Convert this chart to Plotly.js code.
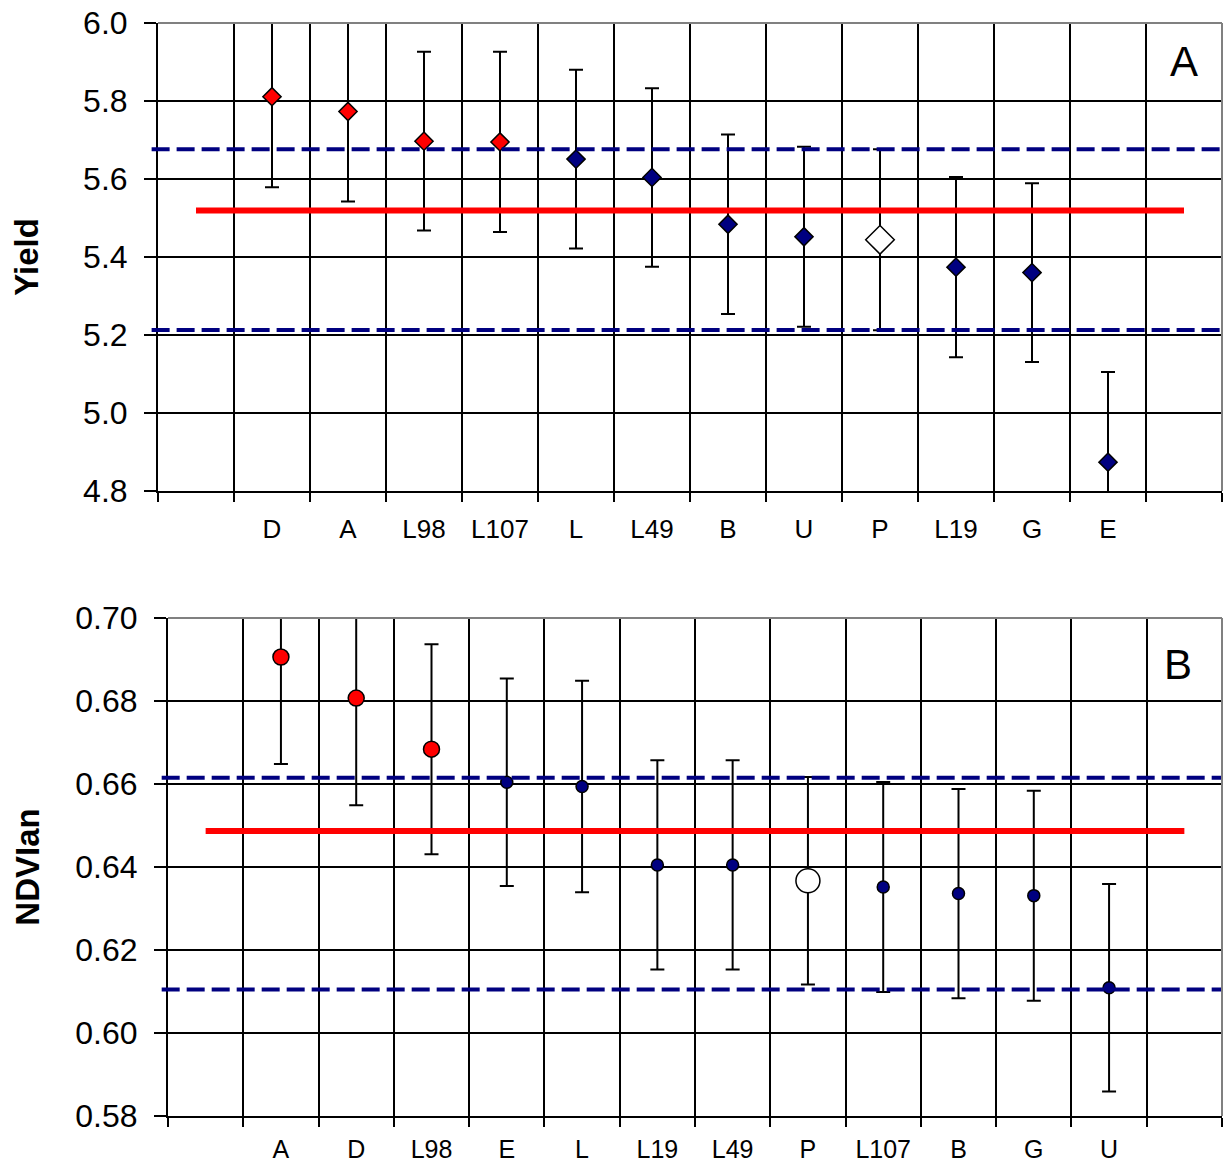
<!DOCTYPE html>
<html><head><meta charset="utf-8">
<script src="https://cdn.plot.ly/plotly-3.0.1.min.js"></script>
<style>html,body{margin:0;padding:0;background:#fff}#chart{width:1227px;height:1166px}</style>
</head><body><div id="chart"></div>
<script>
// ---- Panel A: Yield ----
const yieldCultivars = ['D','A','L98','L107','L','L49','B','U','P','L19','G','E'];
const yieldMeans     = [5.811,5.773,5.697,5.695,5.651,5.604,5.484,5.452,5.444,5.374,5.360,4.874];
const yieldErrors    = [0.232,0.231,0.229,0.231,0.229,0.229,0.230,0.231,0.232,0.231,0.229,0.231];
const yieldGrandMean = 5.519;
const yieldLimits    = [5.213, 5.676];

// ---- Panel B: NDVIan ----
const ndviCultivars = ['A','D','L98','E','L','L19','L49','P','L107','B','G','U'];
const ndviMeans     = [0.6906,0.6807,0.6684,0.6604,0.6594,0.6405,0.6405,0.6367,0.6352,0.6336,0.6331,0.6109];
const ndviErrors    = [0.0258,0.0258,0.0253,0.0250,0.0255,0.0252,0.0252,0.0250,0.0253,0.0252,0.0253,0.0250];
const ndviGrandMean = 0.6487;
const ndviLimits    = [0.6105, 0.6615];

const checkCultivar = 'P';
const PAD_L = '\u00a0', PAD_R = '\u00a0\u00a0';

function panelTraces(cats, means, errs, grand, limits, xa, ya, symbol, sizeN, sizeR, sizeC){
  const groups = {high:{x:[],y:[],e:[]}, norm:{x:[],y:[],e:[]}, check:{x:[],y:[],e:[]}};
  cats.forEach((c,i)=>{
    const g = c===checkCultivar ? 'check' : (means[i] > limits[1] ? 'high' : 'norm');
    groups[g].x.push(c); groups[g].y.push(means[i]); groups[g].e.push(errs[i]);
  });
  const eb = e => ({type:'data', array:e, visible:true, color:'#000', thickness:2, width:7});
  const mk = (g, color, size) => ({
    type:'scatter', mode:'markers', x:groups[g].x, y:groups[g].y, xaxis:xa, yaxis:ya,
    error_y: eb(groups[g].e),
    marker:{symbol:symbol, size:size, color:color, line:{color:'#000', width:1.5}},
    hoverinfo:'x+y'
  });
  return [
    mk('norm', '#000080', sizeN),
    mk('high', '#ff0000', sizeR),
    mk('check', '#ffffff', sizeC),
    {type:'scatter', mode:'lines', x:[PAD_L, PAD_R], y:[grand, grand], xaxis:xa, yaxis:ya,
     line:{color:'#ff0000', width:6}, hoverinfo:'y'}
  ];
}

const traces = [
  ...panelTraces(yieldCultivars, yieldMeans, yieldErrors, yieldGrandMean, yieldLimits, 'x', 'y', 'diamond', 14, 14, 22),
  ...panelTraces(ndviCultivars, ndviMeans, ndviErrors, ndviGrandMean, ndviLimits, 'x2', 'y2', 'circle', 12, 16, 24)
];

const W = 1227, H = 1166;
const fontFam = 'Liberation Sans, Arial, sans-serif';

function xAxis(cats, left, anchor, fsize, standoff){
  return {
    type:'category', categoryorder:'array', categoryarray:[PAD_L, ...cats, PAD_R],
    range:[-0.5, cats.length + 1.5], tickson:'boundaries',
    domain:[left/W, 1222/W], anchor:anchor,
    showgrid:true, gridcolor:'#000', gridwidth:2,
    ticks:'outside', ticklen:9, tickwidth:2, tickcolor:'#000',
    showline:true, linecolor:'#000', linewidth:2, zeroline:false,
    tickfont:{size:fsize, color:'#000', family:fontFam}, ticklabelstandoff:standoff,
    fixedrange:true
  };
}
function yAxis(range, dtick, fmt, top, bottom, title, anchor, titleStandoff){
  return {
    range:range, tick0:range[0], dtick:dtick, tickformat:fmt,
    domain:[1 - bottom/H, 1 - top/H], anchor:anchor,
    showgrid:true, gridcolor:'#000', gridwidth:2, zeroline:false,
    ticks:'outside', ticklen:12, tickwidth:2, tickcolor:'#000',
    showline:true, linecolor:'#000', linewidth:2,
    tickfont:{size:32, color:'#000', family:fontFam}, ticklabelstandoff:10,
    title:{text:title, font:{size:33, color:'#000', family:fontFam, weight:'bold'}, standoff:titleStandoff},
    fixedrange:true
  };
}

function limitShapes(limits, xd, yr){
  return limits.map(v => ({type:'line', xref:xd, x0:-0.006, x1:1, yref:yr, y0:v, y1:v,
    line:{color:'#000080', width:4, dash:'18px,7px'}, layer:'above'}));
}
function frameShapes(xd, yd){
  return [
    {type:'line', xref:xd, yref:yd, x0:0, x1:1, y0:1, y1:1, line:{color:'#808080', width:2}, layer:'above'},
    {type:'line', xref:xd, yref:yd, x0:1, x1:1, y0:0, y1:1, line:{color:'#808080', width:2}, layer:'above'}
  ];
}

const layout = {
  width:W, height:H, margin:{l:0, r:0, t:0, b:0},
  paper_bgcolor:'#fff', plot_bgcolor:'#fff', showlegend:false,
  font:{family:fontFam, color:'#000'},
  xaxis: xAxis(yieldCultivars, 158, 'y', 26, 14),
  yaxis: yAxis([4.8, 6.0], 0.2, '.1f', 23, 491, 'Yield', 'x', 35),
  xaxis2: xAxis(ndviCultivars, 168, 'y2', 25, 10),
  yaxis2: yAxis([0.58, 0.70], 0.02, '.2f', 618, 1116, 'NDVIan', 'x2', 26),
  shapes: [
    ...limitShapes(yieldLimits, 'x domain', 'y'),
    ...limitShapes(ndviLimits, 'x2 domain', 'y2'),
    ...frameShapes('x domain', 'y domain'),
    ...frameShapes('x2 domain', 'y2 domain')
  ],
  annotations: [
    {text:'A', xref:'x domain', yref:'y domain', x:0.964, y:0.917, showarrow:false,
     font:{size:42, color:'#000', family:fontFam}, xanchor:'center', yanchor:'middle'},
    {text:'B', xref:'x2 domain', yref:'y2 domain', x:0.958, y:0.906, showarrow:false,
     font:{size:42, color:'#000', family:fontFam}, xanchor:'center', yanchor:'middle'}
  ]
};

Plotly.newPlot('chart', traces, layout, {displayModeBar:false, staticPlot:true});
</script>
</body></html>
